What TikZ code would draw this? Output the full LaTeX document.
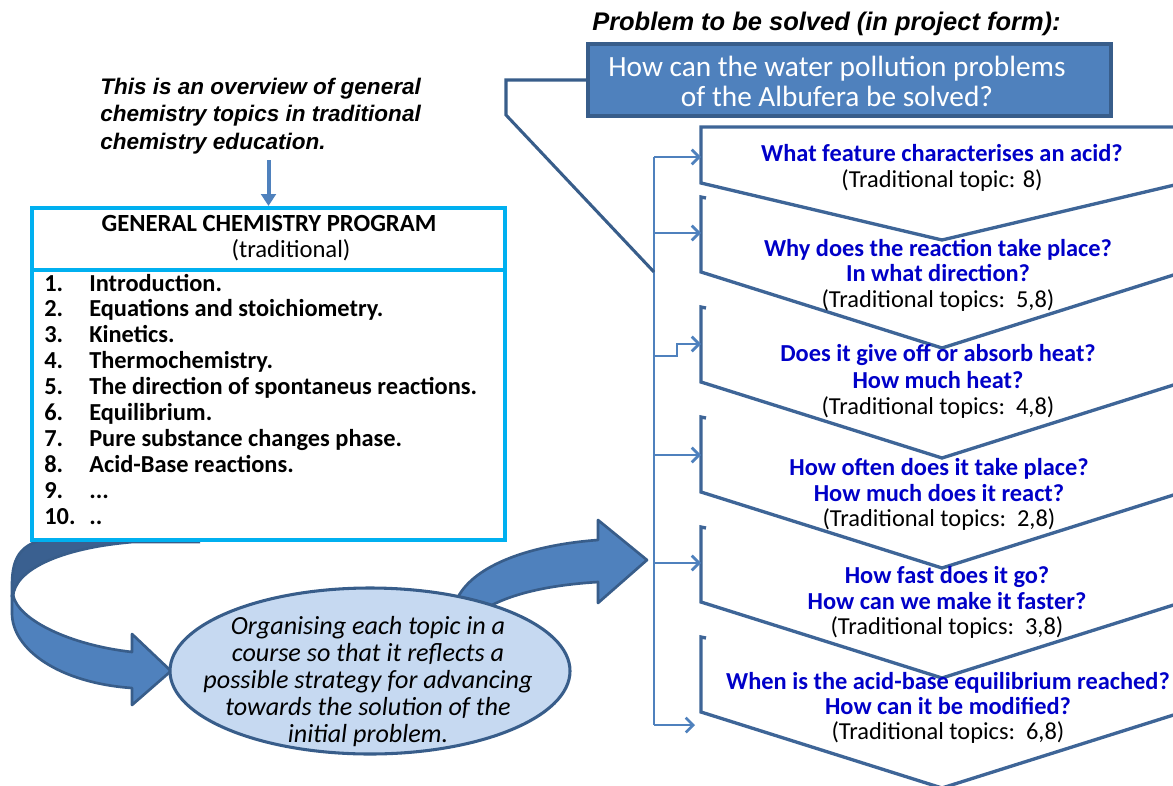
\documentclass[tikz,border=0pt]{standalone}
\usepackage{fontspec}
\setmainfont{Carlito}
\newfontfamily\arialf{Liberation Sans}
\usetikzlibrary{arrows.meta,shapes.geometric}
\definecolor{chevc}{HTML}{3E6597}
\definecolor{branchc}{HTML}{4F81BD}
\definecolor{qblue}{HTML}{0000C8}
\definecolor{cyanc}{HTML}{00B0F0}
\definecolor{edgec}{HTML}{385D8A}
\definecolor{midc}{HTML}{4F81BD}
\definecolor{lightc}{HTML}{C6D9F1}
\definecolor{backc}{HTML}{3A6090}
\newcommand\sz[2]{\fontsize{#1}{#2}\selectfont}
\begin{document}
\begin{tikzpicture}[x=0.75pt,y=-0.75pt,
  txt/.style={inner sep=0pt, text height=0.58em, text depth=0pt},
  qst/.style={txt, font=\bfseries\sz{18.3}{20}, text=qblue},
  tpc/.style={txt, font=\sz{18.3}{20}, text=black},
  itm/.style={txt, anchor=west, font=\bfseries\sz{18.3}{20}},
  ovw/.style={txt, anchor=west, font=\arialf\bfseries\itshape\sz{16.9}{20}},
  chev/.style={draw=chevc, line width=2.5pt, line join=miter},
  branch/.style={draw=branchc, line width=2pt, -{Straight Barb[length=5.5pt,width=11pt]}},
  bandline/.style={draw=edgec, line width=2pt, line join=round}]
\useasboundingbox (0,0) rectangle (1173,785);

% ---------- left curved arrow ----------
\fill[backc] (12,597) -- (12,585) .. controls (12,555) and (22,540) .. (60,537)
  -- (200,535) -- (200,542) -- (133,542) .. controls (60,548) and (14,570) .. (13,597) -- cycle;
\draw[bandline] (12,597) -- (12,585) .. controls (12,555) and (22,540) .. (60,537) -- (200,535);
\draw[bandline] (200,542) -- (133,542) .. controls (60,548) and (14,570) .. (13,597);
\filldraw[fill=midc, bandline] (13,595) .. controls (18,620) and (70,645) .. (132,652)
  -- (132,634) -- (171,671) -- (132,705) -- (132,688)
  .. controls (60,683) and (12,650) .. (12,613) -- (12,595) -- cycle;

% ---------- right curved arrow ----------
\filldraw[fill=midc, bandline] (470,640) -- (458,597) .. controls (475,565) and (530,545) .. (598,540)
  -- (598,520) -- (647,560) -- (598,603) -- (598,582)
  .. controls (550,585) and (515,593) .. (490,606) -- cycle;

% ---------- program box ----------
\node[draw=cyanc, line width=3pt, fill=white, minimum width=354.75pt, minimum height=249pt, inner sep=0pt] (prog) at (268.5,374) {};
\coordinate (dl) at (32,270);
\coordinate (dr) at (505,270);
\draw[cyanc, line width=3pt] (dl) -- (dr);
\node[txt, font=\bfseries\sz{18.5}{20}] (h1) at (269,228) {GENERAL CHEMISTRY PROGRAM};
\node[txt, font=\sz{18.5}{20}] (h2) at (291,254) {(traditional)};
\node[itm] (n1) at (44,288) {1.};   \node[itm] (t1) at (89,288) {Introduction.};
\node[itm] (n2) at (44,313) {2.};   \node[itm] (t2) at (89,313) {Equations and stoichiometry.};
\node[itm] (n3) at (44,339) {3.};   \node[itm] (t3) at (89,339) {Kinetics.};
\node[itm] (n4) at (44,365) {4.};   \node[itm] (t4) at (89,365) {Thermochemistry.};
\node[itm] (n5) at (44,391) {5.};   \node[itm] (t5) at (89,391) {The direction of spontaneus reactions.};
\node[itm] (n6) at (44,417) {6.};   \node[itm] (t6) at (89,417) {Equilibrium.};
\node[itm] (n7) at (44,443) {7.};   \node[itm] (t7) at (89,443) {Pure substance changes phase.};
\node[itm] (n8) at (44,469) {8.};   \node[itm] (t8) at (89,469) {Acid-Base reactions.};
\node[itm] (n9) at (44,495) {9.};   \node[itm] (t9) at (89,495) {...};
\node[itm] (n10) at (44,521) {10.}; \node[itm] (t10) at (89,521) {..};

% ---------- overview text and down arrow ----------
\node[ovw] (o1) at (100,91) {This is an overview of general};
\node[ovw] (o2) at (100,118) {chemistry topics in traditional};
\node[ovw] (o3) at (100,146) {chemistry education.};
\coordinate (da) at (268.5,160);
\draw[midc, line width=3pt, -{Triangle[length=9pt,width=11pt]}] (da) -- (prog.north);

% ---------- ellipse ----------
\node[ellipse, draw=edgec, line width=2.3pt, fill=lightc, minimum width=300pt, minimum height=124.5pt, inner sep=0pt] (ell) at (370,671) {};
\node[align=center, inner sep=0pt, font=\itshape\sz{19.6}{20.25}] (etxt) at (368,682)
  {Organising each topic in a\\course so that it reflects a\\possible strategy for advancing\\towards the solution of the\\initial problem.};

% ---------- chevrons ----------
\begin{scope}
\clip (0,0) rectangle (1173,785);
\draw[chev] (1185,127) -- (701,127) -- (701,183) -- (942,240) -- (1183,183);
\foreach \T in {197,307,417,527,637}{
  \draw[chev] (706,\T+1) -- (701,\T) -- (701,\T+75) -- (942,\T+151) -- (1183,\T+75);
}
\node[qst] at (942,158) {What feature characterises an acid?};
\node[tpc] at (942,184) {(Traditional topic: 8)};
\node[qst] at (938,253) {Why does the reaction take place?};
\node[qst] at (938,278) {In what direction?};
\node[tpc] at (938,304) {(Traditional topics:\ \ 5,8)};
\node[qst] at (938,358) {Does it give off or absorb heat?};
\node[qst] at (938,385) {How much heat?};
\node[tpc] at (938,411) {(Traditional topics:\ \ 4,8)};
\node[qst] at (939,472) {How often does it take place?};
\node[qst] at (939,498) {How much does it react?};
\node[tpc] at (939,523) {(Traditional topics:\ \ 2,8)};
\node[qst] at (947,580) {How fast does it go?};
\node[qst] at (947,606) {How can we make it faster?};
\node[tpc] at (947,631) {(Traditional topics:\ \ 3,8)};
\node[qst] at (948,686) {When is the acid-base equilibrium reached?};
\node[qst] at (948,711) {How can it be modified?};
\node[tpc] at (948,736) {(Traditional topics:\ \ 6,8)};
\end{scope}

% ---------- branch lines ----------
\coordinate (b1) at (654,157); \coordinate (e1) at (701,157);
\coordinate (b2) at (654,233); \coordinate (e2) at (701,233);
\coordinate (b3) at (654,356); \coordinate (k3) at (677,356); \coordinate (k3b) at (677,344); \coordinate (e3) at (701,344);
\coordinate (b4) at (654,455); \coordinate (e4) at (701,455);
\coordinate (b5) at (654,563); \coordinate (e5) at (701,563);
\coordinate (b6) at (654,725); \coordinate (e6) at (695,725);
\draw[draw=branchc, line width=2pt] (b1) -- (b6);
\draw[branch] (b1) -- (e1);
\draw[branch] (b2) -- (e2);
\draw[branch] (b3) -- (k3) -- (k3b) -- (e3);
\draw[branch] (b4) -- (e4);
\draw[branch] (b5) -- (e5);
\draw[branch] (b6) -- (e6);

% ---------- problem callout ----------
\node[font=\arialf\bfseries\itshape\sz{19.1}{20}, txt, anchor=west] (title) at (592,27) {Problem to be solved (in project form):};
\coordinate (p1) at (506,80);
\coordinate (p2) at (506,115);
\coordinate (p3) at (654,272);
\node[fill=midc, draw=edgec, line width=2.3pt, minimum width=392.25pt, minimum height=54pt, inner sep=0pt] (callout) at (849.5,80) {};
\draw[edgec, line width=2.3pt, line join=miter] (callout.west) -- (p1) -- (p2) -- (p3);
\node[align=center, inner sep=0pt, text=white, font=\sz{22}{22.5}] (ctxt) at (837,81)
  {How can the water pollution problems\\of the Albufera be solved?};
\end{tikzpicture}
\end{document}
